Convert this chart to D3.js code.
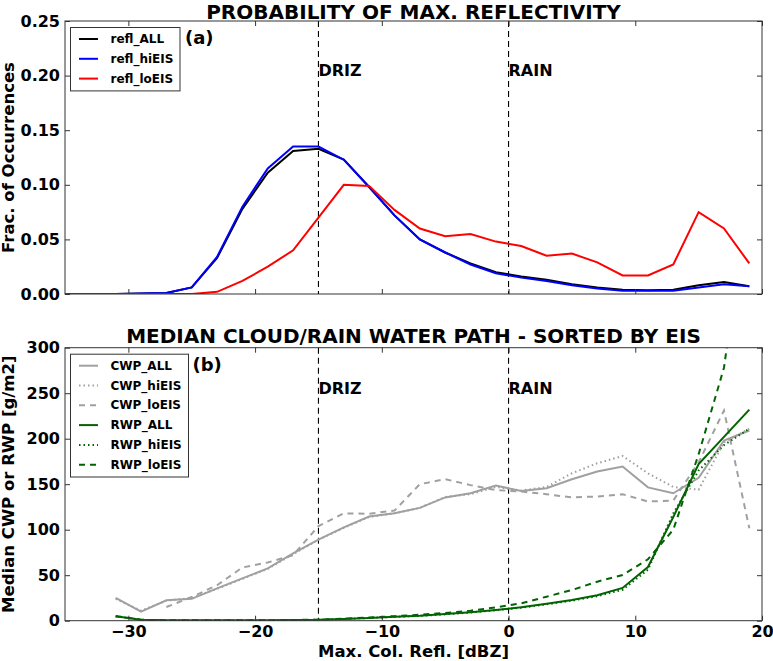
<!DOCTYPE html>
<html>
<head>
<meta charset="utf-8">
<script src="https://cdn.jsdelivr.net/npm/d3@7"></script>
<style>
body { margin: 0; background: #fff; }
text { font-family: "DejaVu Sans", sans-serif; font-weight: bold; }
</style>
</head>
<body>
<div id="root"></div>
<script>
var width = 773;
var height = 661;

/* panel (a): probability of max reflectivity, bins every 2 dBZ */
var reflBins = [-35,-33,-31,-29,-27,-25,-23,-21,-19,-17,-15,-13,-11,-9,-7,-5,-3,-1,1,3,5,7,9,11,13,15,17,19];
var reflAll = [0,0,0,0.0005,0.001,0.006,0.033,0.078,0.111,0.131,0.133,0.123,0.098,0.072,0.050,0.038,0.028,0.020,0.016,0.013,0.009,0.006,0.004,0.0035,0.004,0.008,0.011,0.007];
var reflHi = [0,0,0,0.0005,0.001,0.006,0.034,0.080,0.115,0.135,0.135,0.123,0.098,0.072,0.050,0.038,0.027,0.019,0.015,0.012,0.008,0.005,0.003,0.003,0.003,0.006,0.009,0.007];
var reflLo = [0,0,0,0,0,0,0.002,0.012,0.025,0.040,0.070,0.100,0.099,0.077,0.060,0.053,0.055,0.048,0.044,0.035,0.037,0.029,0.017,0.017,0.027,0.075,0.060,0.028];

/* panel (b): median water paths [g/m2] */
var wpBins = [-31,-29,-27,-25,-23,-21,-19,-17,-15,-13,-11,-9,-7,-5,-3,-1,1,3,5,7,9,11,13,15,17,19];
var cwpAll = [25,10,22.5,24,35.5,46.5,57.5,74,89,102.5,114.5,118,124,135.5,140,148.5,142.5,145.5,155.5,164,169.5,146.5,140,157,198,209];
var cwpHi = [24,11,22,25,35,46,57,73,89,102,114,118,124,136,139,147,143,147,162,173,181,162,147,144,196,211];
var cwpLo = [null,null,15,26,39,58.5,64,72,104,118,117.5,121,150,155.5,149,143.5,142,139,135.5,136.5,139,131,132,174,231,101.5];
var rwpAll = [5,1,0.5,0.5,0.5,0.5,0.5,0.7,1,2,3,4.4,5.5,7.4,9.2,11.8,14.7,18.5,22.7,28,36,59,114,172,202,232];
var rwpHi = [5,1,0.5,0.5,0.5,0.5,0.5,0.7,1,2,3,4.2,5.3,7,9,11.5,14.3,18,22,27,34,56,118,165,193,211];
var rwpLo = [5,1,0.5,0.5,0.5,0.5,0.5,0.8,1.2,2.2,3.5,5,6.5,8.5,11,14.7,19.1,26.4,33.7,42.9,50.2,67.5,100,183,278,480];

var xTicks = [-30,-20,-10,0,10,20];
var regimes = [{name: "DRIZ", at: -15}, {name: "RAIN", at: 0}];

var svg = d3.select("#root")
.append("svg")
.attr("width", width)
.attr("height", height);

var left = 65, right = 762;

var x = d3.scaleLinear()
.domain([-35, 20])
.range([left, right]);

function zip(bins, vals) {
	return bins.map(function(b, i) { return {x: b, y: vals[i]}; });
}

/*
draws one panel: frame, inward ticks on all four sides,
dashed regime lines with labels, series lines and legend
*/
function panel(opt) {
	var y = d3.scaleLinear().domain(opt.ydomain).range([opt.bottom, opt.top]);
	var g = svg.append("g");
	var clipId = "clip" + opt.id;

	g.append("clipPath")
	.attr("id", clipId)
	.append("rect")
	.attr("x", left)
	.attr("y", opt.top)
	.attr("width", right - left)
	.attr("height", opt.bottom - opt.top);

	/* regime lines */
	regimes.forEach(function(r) {
		g.append("line")
		.attr("x1", x(r.at)).attr("x2", x(r.at))
		.attr("y1", opt.top).attr("y2", opt.bottom)
		.attr("stroke", "#000")
		.attr("stroke-width", 1.1)
		.attr("stroke-dasharray", "6,4");
		g.append("text")
		.attr("x", x(r.at))
		.attr("y", opt.labelY)
		.attr("font-size", "16px")
		.text(r.name);
	});

	var line = d3.line()
	.defined(function(d) { return d.y != null; })
	.x(function(d) { return x(d.x); })
	.y(function(d) { return y(d.y); });

	var lines = g.append("g").attr("clip-path", "url(#" + clipId + ")");
	opt.series.forEach(function(s) {
		lines.append("path")
		.datum(zip(opt.bins, s.values))
		.attr("fill", "none")
		.attr("stroke", s.color)
		.attr("stroke-width", 2)
		.attr("stroke-dasharray", s.dash)
		.attr("d", line);
	});

	/* axes, ticks pointing inward */
	var yTicks = opt.yticks;
	g.append("g")
	.attr("transform", "translate(" + left + ",0)")
	.call(d3.axisLeft(y).tickValues(yTicks).tickSize(-5).tickPadding(5).tickFormat(opt.yformat));
	g.append("g")
	.attr("transform", "translate(" + right + ",0)")
	.call(d3.axisRight(y).tickValues(yTicks).tickSize(-5).tickFormat(""));
	g.append("g")
	.attr("transform", "translate(0," + opt.top + ")")
	.call(d3.axisTop(x).tickValues(xTicks).tickSize(-5).tickFormat(""));
	g.append("g")
	.attr("transform", "translate(0," + opt.bottom + ")")
	.call(d3.axisBottom(x).tickValues(xTicks).tickSize(-5).tickPadding(5)
		.tickFormat(opt.xlabels ? d3.format("d") : ""));

	g.selectAll(".domain").remove();
	g.selectAll(".tick line").attr("stroke", "#333");
	g.selectAll(".tick text")
	.attr("font-size", "16px")
	.attr("fill", "#000")
	.attr("font-family", "DejaVu Sans")
	.attr("font-weight", "bold");

	g.append("rect")
	.attr("x", left)
	.attr("y", opt.top)
	.attr("width", right - left)
	.attr("height", opt.bottom - opt.top)
	.attr("fill", "none")
	.attr("stroke", "#333")
	.attr("stroke-width", 1);

	/* title and y label */
	g.append("text")
	.attr("x", (left + right) / 2)
	.attr("y", opt.titleY)
	.attr("text-anchor", "middle")
	.attr("font-size", "20px")
	.text(opt.title);

	g.append("text")
	.attr("transform", "translate(14," + (opt.top + opt.bottom) / 2 + ") rotate(-90)")
	.attr("text-anchor", "middle")
	.attr("font-size", "16.5px")
	.text(opt.ylabel);

	/* legend */
	var lg = g.append("g");
	lg.append("rect")
	.attr("x", 70.5)
	.attr("y", opt.top + 6.5)
	.attr("width", opt.legendW)
	.attr("height", opt.series.length * 19.8 + 4)
	.attr("fill", "#fff")
	.attr("stroke", "#333")
	.attr("stroke-width", 1);
	opt.series.forEach(function(s, i) {
		var by = opt.top + 22 + i * 19.8;
		lg.append("line")
		.attr("x1", 79).attr("x2", 98)
		.attr("y1", by - 4).attr("y2", by - 4)
		.attr("stroke", s.color)
		.attr("stroke-width", 2)
		.attr("stroke-dasharray", s.dash);
		lg.append("text")
		.attr("x", 110.5)
		.attr("y", by)
		.attr("font-size", "12px")
		.text(s.name);
	});

	g.append("text")
	.attr("x", opt.tagX)
	.attr("y", opt.top + 23)
	.attr("font-size", "18px")
	.text(opt.tag);
}

panel({
	id: "a",
	top: 21, bottom: 294,
	ydomain: [0, 0.25],
	yticks: [0, 0.05, 0.10, 0.15, 0.20, 0.25],
	yformat: d3.format(".2f"),
	xlabels: false,
	bins: reflBins,
	labelY: 76,
	titleY: 18.5,
	title: "PROBABILITY OF MAX. REFLECTIVITY",
	ylabel: "Frac. of Occurrences",
	tag: "(a)", tagX: 185,
	legendW: 109.5,
	series: [
		{name: "refl_ALL", values: reflAll, color: "#000000", dash: null},
		{name: "refl_hiEIS", values: reflHi, color: "#0000ff", dash: null},
		{name: "refl_loEIS", values: reflLo, color: "#ff0000", dash: null}
	]
});

panel({
	id: "b",
	top: 347.7, bottom: 620.7,
	ydomain: [0, 300],
	yticks: [0, 50, 100, 150, 200, 250, 300],
	yformat: d3.format("d"),
	xlabels: true,
	bins: wpBins,
	labelY: 394,
	titleY: 342.7,
	title: "MEDIAN CLOUD/RAIN WATER PATH - SORTED BY EIS",
	ylabel: "Median CWP or RWP [g/m2]",
	tag: "(b)", tagX: 192.5,
	legendW: 118,
	series: [
		{name: "CWP_ALL", values: cwpAll, color: "#a0a0a0", dash: null},
		{name: "CWP_hiEIS", values: cwpHi, color: "#a0a0a0", dash: "1.5,3"},
		{name: "CWP_loEIS", values: cwpLo, color: "#a0a0a0", dash: "6,5"},
		{name: "RWP_ALL", values: rwpAll, color: "#006400", dash: null},
		{name: "RWP_hiEIS", values: rwpHi, color: "#006400", dash: "1.5,3"},
		{name: "RWP_loEIS", values: rwpLo, color: "#006400", dash: "6,5"}
	]
});

svg.append("text")
.attr("x", (left + right) / 2)
.attr("y", 656.5)
.attr("text-anchor", "middle")
.attr("font-size", "16.5px")
.text("Max. Col. Refl. [dBZ]");
</script>
</body>
</html>
